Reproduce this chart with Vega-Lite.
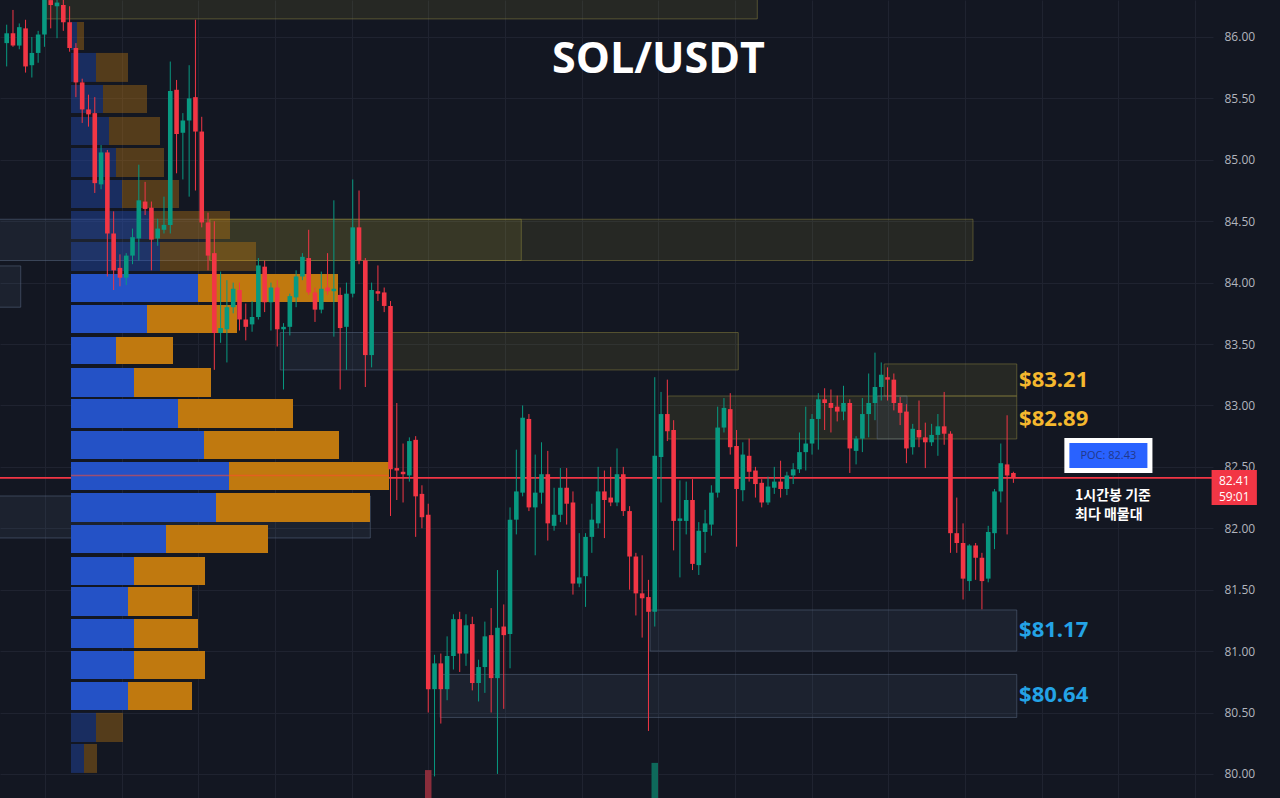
{
  "$schema": "https://vega.github.io/schema/vega-lite/v6.json",
  "width": 1213,
  "height": 798,
  "autosize": {"type": "none"},
  "padding": {"left": 0, "top": 0, "right": 67, "bottom": 0},
  "background": "#131722",
  "config": {"view": {"stroke": null}, "font": "Open Sans"},
  "datasets": {
    "candles": [
      {"k":0,"o":85.95,"h":86.10,"l":85.76,"c":86.03},
      {"k":1,"o":86.03,"h":86.22,"l":85.92,"c":85.93},
      {"k":2,"o":85.93,"h":86.11,"l":85.90,"c":86.08},
      {"k":3,"o":86.07,"h":86.14,"l":85.71,"c":85.76},
      {"k":4,"o":85.77,"h":86.00,"l":85.67,"c":85.87},
      {"k":5,"o":85.87,"h":86.05,"l":85.79,"c":86.02},
      {"k":6,"o":86.02,"h":86.45,"l":85.92,"c":86.35},
      {"k":7,"o":86.30,"h":86.40,"l":86.07,"c":86.26},
      {"k":8,"o":86.25,"h":86.32,"l":85.99,"c":86.28},
      {"k":9,"o":86.26,"h":86.32,"l":86.05,"c":86.12},
      {"k":10,"o":86.12,"h":86.25,"l":85.88,"c":85.91},
      {"k":11,"o":85.91,"h":85.95,"l":85.51,"c":85.63},
      {"k":12,"o":85.63,"h":85.66,"l":85.30,"c":85.41},
      {"k":13,"o":85.41,"h":85.53,"l":85.27,"c":85.37},
      {"k":14,"o":85.38,"h":85.51,"l":84.73,"c":84.81},
      {"k":15,"o":84.80,"h":85.12,"l":84.76,"c":85.06},
      {"k":16,"o":85.06,"h":85.08,"l":84.05,"c":84.40},
      {"k":17,"o":84.40,"h":84.58,"l":83.94,"c":84.10},
      {"k":18,"o":84.12,"h":84.23,"l":83.97,"c":84.04},
      {"k":19,"o":84.04,"h":84.24,"l":83.98,"c":84.22},
      {"k":20,"o":84.22,"h":84.44,"l":84.15,"c":84.37},
      {"k":21,"o":84.36,"h":84.96,"l":84.18,"c":84.67},
      {"k":22,"o":84.66,"h":84.82,"l":84.55,"c":84.60},
      {"k":23,"o":84.61,"h":84.66,"l":84.10,"c":84.35},
      {"k":24,"o":84.36,"h":84.52,"l":84.30,"c":84.44},
      {"k":25,"o":84.43,"h":84.70,"l":84.40,"c":84.47},
      {"k":26,"o":84.47,"h":85.80,"l":84.40,"c":85.56},
      {"k":27,"o":85.57,"h":85.65,"l":84.89,"c":85.21},
      {"k":28,"o":85.22,"h":85.38,"l":84.84,"c":85.32},
      {"k":29,"o":85.32,"h":85.77,"l":84.70,"c":85.50},
      {"k":30,"o":85.51,"h":86.14,"l":84.75,"c":85.23},
      {"k":31,"o":85.23,"h":85.35,"l":84.45,"c":84.49},
      {"k":32,"o":84.49,"h":84.57,"l":84.10,"c":84.22},
      {"k":33,"o":84.24,"h":84.50,"l":83.29,"c":83.59},
      {"k":34,"o":83.59,"h":84.09,"l":83.51,"c":83.63},
      {"k":35,"o":83.62,"h":84.02,"l":83.35,"c":83.80},
      {"k":36,"o":83.80,"h":84.00,"l":83.75,"c":83.95},
      {"k":37,"o":83.94,"h":84.00,"l":83.61,"c":83.70},
      {"k":38,"o":83.70,"h":83.83,"l":83.53,"c":83.64},
      {"k":39,"o":83.66,"h":83.85,"l":83.60,"c":83.72},
      {"k":40,"o":83.72,"h":84.20,"l":83.70,"c":84.14},
      {"k":41,"o":84.13,"h":84.18,"l":83.76,"c":83.84},
      {"k":42,"o":83.84,"h":84.00,"l":83.61,"c":83.96},
      {"k":43,"o":83.96,"h":84.02,"l":83.48,"c":83.62},
      {"k":44,"o":83.62,"h":83.67,"l":83.13,"c":83.64},
      {"k":45,"o":83.64,"h":83.91,"l":83.57,"c":83.89},
      {"k":46,"o":83.88,"h":84.10,"l":83.80,"c":84.05},
      {"k":47,"o":84.05,"h":84.24,"l":84.02,"c":84.21},
      {"k":48,"o":84.20,"h":84.43,"l":83.90,"c":83.92},
      {"k":49,"o":83.92,"h":83.96,"l":83.68,"c":83.78},
      {"k":50,"o":83.78,"h":84.09,"l":83.75,"c":83.95},
      {"k":51,"o":83.96,"h":84.24,"l":83.90,"c":83.93},
      {"k":52,"o":83.93,"h":84.67,"l":83.56,"c":83.95},
      {"k":53,"o":83.90,"h":83.96,"l":83.13,"c":83.63},
      {"k":54,"o":83.64,"h":84.00,"l":83.29,"c":83.91},
      {"k":55,"o":83.91,"h":84.84,"l":83.88,"c":84.45},
      {"k":56,"o":84.45,"h":84.75,"l":84.15,"c":84.18},
      {"k":57,"o":84.18,"h":84.20,"l":83.15,"c":83.41},
      {"k":58,"o":83.41,"h":84.00,"l":83.31,"c":83.94},
      {"k":59,"o":83.93,"h":84.14,"l":83.85,"c":83.91},
      {"k":60,"o":83.92,"h":83.96,"l":83.76,"c":83.81},
      {"k":61,"o":83.81,"h":83.85,"l":82.10,"c":82.48},
      {"k":62,"o":82.49,"h":83.02,"l":82.23,"c":82.47},
      {"k":63,"o":82.46,"h":82.69,"l":82.21,"c":82.44},
      {"k":64,"o":82.43,"h":82.74,"l":82.38,"c":82.71},
      {"k":65,"o":82.72,"h":82.75,"l":81.93,"c":82.26},
      {"k":66,"o":82.28,"h":82.35,"l":82.00,"c":82.09},
      {"k":67,"o":82.11,"h":82.20,"l":80.50,"c":80.69},
      {"k":68,"o":80.69,"h":80.97,"l":79.98,"c":80.90},
      {"k":69,"o":80.90,"h":80.98,"l":80.41,"c":80.69},
      {"k":70,"o":80.69,"h":81.12,"l":80.60,"c":80.96},
      {"k":71,"o":80.96,"h":81.30,"l":80.85,"c":81.26},
      {"k":72,"o":81.26,"h":81.32,"l":80.83,"c":80.98},
      {"k":73,"o":80.98,"h":81.30,"l":80.88,"c":81.21},
      {"k":74,"o":81.22,"h":81.28,"l":80.68,"c":80.74},
      {"k":75,"o":80.74,"h":80.93,"l":80.59,"c":80.87},
      {"k":76,"o":80.87,"h":81.24,"l":80.66,"c":81.12},
      {"k":77,"o":81.13,"h":81.35,"l":80.50,"c":80.78},
      {"k":78,"o":80.78,"h":81.66,"l":80.00,"c":81.19},
      {"k":79,"o":81.20,"h":81.38,"l":80.53,"c":81.13},
      {"k":80,"o":81.14,"h":82.17,"l":80.86,"c":82.07},
      {"k":81,"o":82.07,"h":82.64,"l":81.95,"c":82.30},
      {"k":82,"o":82.29,"h":83.00,"l":82.26,"c":82.90},
      {"k":83,"o":82.89,"h":82.93,"l":82.14,"c":82.17},
      {"k":84,"o":82.17,"h":82.60,"l":81.78,"c":82.29},
      {"k":85,"o":82.29,"h":82.70,"l":82.20,"c":82.44},
      {"k":86,"o":82.44,"h":82.63,"l":81.90,"c":82.04},
      {"k":87,"o":82.02,"h":82.33,"l":81.98,"c":82.11},
      {"k":88,"o":82.11,"h":82.49,"l":82.05,"c":82.33},
      {"k":89,"o":82.33,"h":82.49,"l":82.03,"c":82.20},
      {"k":90,"o":82.21,"h":82.30,"l":81.46,"c":81.55},
      {"k":91,"o":81.55,"h":81.96,"l":81.52,"c":81.60},
      {"k":92,"o":81.61,"h":81.96,"l":81.36,"c":81.93},
      {"k":93,"o":81.93,"h":82.20,"l":81.80,"c":82.07},
      {"k":94,"o":82.04,"h":82.50,"l":82.00,"c":82.30},
      {"k":95,"o":82.30,"h":82.47,"l":81.92,"c":82.23},
      {"k":96,"o":82.25,"h":82.50,"l":82.18,"c":82.21},
      {"k":97,"o":82.21,"h":82.65,"l":82.18,"c":82.44},
      {"k":98,"o":82.44,"h":82.50,"l":82.10,"c":82.14},
      {"k":99,"o":82.14,"h":82.18,"l":81.50,"c":81.77},
      {"k":100,"o":81.77,"h":81.80,"l":81.29,"c":81.47},
      {"k":101,"o":81.47,"h":81.78,"l":81.11,"c":81.43},
      {"k":102,"o":81.44,"h":81.58,"l":80.35,"c":81.32},
      {"k":103,"o":81.32,"h":83.23,"l":81.20,"c":82.59},
      {"k":104,"o":82.58,"h":83.11,"l":82.21,"c":82.93},
      {"k":105,"o":82.93,"h":83.21,"l":82.71,"c":82.79},
      {"k":106,"o":82.80,"h":82.88,"l":81.82,"c":82.06},
      {"k":107,"o":82.06,"h":82.39,"l":81.60,"c":82.08},
      {"k":108,"o":82.06,"h":82.38,"l":81.95,"c":82.23},
      {"k":109,"o":82.23,"h":82.40,"l":81.66,"c":81.71},
      {"k":110,"o":81.70,"h":82.05,"l":81.62,"c":81.98},
      {"k":111,"o":81.97,"h":82.15,"l":81.80,"c":82.04},
      {"k":112,"o":82.03,"h":82.35,"l":81.94,"c":82.29},
      {"k":113,"o":82.29,"h":82.99,"l":82.25,"c":82.82},
      {"k":114,"o":82.82,"h":83.06,"l":82.78,"c":82.98},
      {"k":115,"o":82.97,"h":83.10,"l":82.60,"c":82.66},
      {"k":116,"o":82.67,"h":82.80,"l":81.85,"c":82.32},
      {"k":117,"o":82.31,"h":82.70,"l":82.22,"c":82.60},
      {"k":118,"o":82.59,"h":82.73,"l":82.38,"c":82.46},
      {"k":119,"o":82.47,"h":82.50,"l":82.25,"c":82.36},
      {"k":120,"o":82.37,"h":82.40,"l":82.17,"c":82.21},
      {"k":121,"o":82.21,"h":82.42,"l":82.19,"c":82.34},
      {"k":122,"o":82.33,"h":82.50,"l":82.28,"c":82.38},
      {"k":123,"o":82.38,"h":82.55,"l":82.25,"c":82.32},
      {"k":124,"o":82.32,"h":82.46,"l":82.27,"c":82.43},
      {"k":125,"o":82.43,"h":82.53,"l":82.36,"c":82.48},
      {"k":126,"o":82.48,"h":82.78,"l":82.45,"c":82.62},
      {"k":127,"o":82.62,"h":82.99,"l":82.47,"c":82.69},
      {"k":128,"o":82.69,"h":82.93,"l":82.60,"c":82.89},
      {"k":129,"o":82.89,"h":83.10,"l":82.64,"c":83.05},
      {"k":130,"o":83.05,"h":83.14,"l":82.80,"c":83.02},
      {"k":131,"o":83.02,"h":83.13,"l":82.78,"c":82.98},
      {"k":132,"o":82.99,"h":83.08,"l":82.87,"c":82.95},
      {"k":133,"o":82.95,"h":83.16,"l":82.88,"c":83.02},
      {"k":134,"o":83.02,"h":83.05,"l":82.45,"c":82.65},
      {"k":135,"o":82.63,"h":82.75,"l":82.52,"c":82.73},
      {"k":136,"o":82.73,"h":83.06,"l":82.62,"c":82.93},
      {"k":137,"o":82.93,"h":83.26,"l":82.74,"c":83.02},
      {"k":138,"o":83.02,"h":83.43,"l":82.88,"c":83.15},
      {"k":139,"o":83.15,"h":83.35,"l":83.04,"c":83.25},
      {"k":140,"o":83.23,"h":83.31,"l":83.04,"c":83.21},
      {"k":141,"o":83.21,"h":83.26,"l":82.96,"c":83.02},
      {"k":142,"o":83.02,"h":83.07,"l":82.84,"c":82.94},
      {"k":143,"o":82.95,"h":83.01,"l":82.53,"c":82.65},
      {"k":144,"o":82.66,"h":82.85,"l":82.60,"c":82.81},
      {"k":145,"o":82.80,"h":83.04,"l":82.66,"c":82.74},
      {"k":146,"o":82.74,"h":82.86,"l":82.49,"c":82.70},
      {"k":147,"o":82.70,"h":82.85,"l":82.67,"c":82.76},
      {"k":148,"o":82.76,"h":82.93,"l":82.59,"c":82.83},
      {"k":149,"o":82.83,"h":83.11,"l":82.68,"c":82.77},
      {"k":150,"o":82.77,"h":82.79,"l":81.80,"c":81.96},
      {"k":151,"o":81.96,"h":82.25,"l":81.80,"c":81.88},
      {"k":152,"o":81.88,"h":82.04,"l":81.42,"c":81.59},
      {"k":153,"o":81.57,"h":81.87,"l":81.49,"c":81.86},
      {"k":154,"o":81.86,"h":81.88,"l":81.58,"c":81.76},
      {"k":155,"o":81.76,"h":81.80,"l":81.34,"c":81.57},
      {"k":156,"o":81.59,"h":82.02,"l":81.56,"c":81.97},
      {"k":157,"o":81.96,"h":82.32,"l":81.83,"c":82.30},
      {"k":158,"o":82.30,"h":82.69,"l":82.21,"c":82.53},
      {"k":159,"o":82.52,"h":82.92,"l":81.95,"c":82.43},
      {"k":160,"o":82.45,"h":82.46,"l":82.37,"c":82.41}
    ],
    "zones": [
      {"k0":7,"k1":119.1,"lo":86.147,"hi":86.6,"kind":"supply"},
      {"k0":-1,"k1":32.8,"lo":84.18,"hi":84.516,"kind":"demand"},
      {"k0":32.8,"k1":81.9,"lo":84.18,"hi":84.516,"kind":"supply"},
      {"k0":32.8,"k1":153.1,"lo":84.18,"hi":84.516,"kind":"supply"},
      {"k0":-1,"k1":3.0,"lo":83.80,"hi":84.136,"kind":"demand"},
      {"k0":43.9,"k1":61.2,"lo":83.289,"hi":83.594,"kind":"demand"},
      {"k0":61.2,"k1":116.1,"lo":83.289,"hi":83.594,"kind":"supply"},
      {"k0":139.1,"k1":160.0,"lo":83.077,"hi":83.338,"kind":"supply"},
      {"k0":105.0,"k1":160.0,"lo":82.727,"hi":83.077,"kind":"supply"},
      {"k0":138.0,"k1":142.7,"lo":82.727,"hi":83.077,"kind":"demand"},
      {"k0":-1,"k1":58.1,"lo":81.921,"hi":82.263,"kind":"demand"},
      {"k0":102.2,"k1":160.0,"lo":81.0,"hi":81.335,"kind":"demand"},
      {"k0":69.1,"k1":160.0,"lo":80.46,"hi":80.81,"kind":"demand"}
    ],
    "profile": [
      {"lo":85.894,"hi":86.122,"buy":6,"total":13,"va":false,"poc":false},
      {"lo":85.634,"hi":85.870,"buy":25,"total":57,"va":false,"poc":false},
      {"lo":85.381,"hi":85.609,"buy":32,"total":76,"va":false,"poc":false},
      {"lo":85.121,"hi":85.349,"buy":38,"total":89,"va":false,"poc":false},
      {"lo":84.860,"hi":85.096,"buy":45,"total":93,"va":false,"poc":false},
      {"lo":84.608,"hi":84.836,"buy":51,"total":108,"va":false,"poc":false},
      {"lo":84.355,"hi":84.583,"buy":79,"total":159,"va":false,"poc":false},
      {"lo":84.095,"hi":84.331,"buy":89,"total":185,"va":false,"poc":false},
      {"lo":83.843,"hi":84.070,"buy":127,"total":267,"va":true,"poc":false},
      {"lo":83.590,"hi":83.818,"buy":76,"total":166,"va":true,"poc":false},
      {"lo":83.338,"hi":83.558,"buy":45,"total":102,"va":true,"poc":false},
      {"lo":83.069,"hi":83.305,"buy":63,"total":140,"va":true,"poc":false},
      {"lo":82.817,"hi":83.053,"buy":107,"total":222,"va":true,"poc":false},
      {"lo":82.564,"hi":82.792,"buy":133,"total":268,"va":true,"poc":false},
      {"lo":82.312,"hi":82.540,"buy":158,"total":318,"va":true,"poc":true},
      {"lo":82.051,"hi":82.288,"buy":145,"total":299,"va":true,"poc":false},
      {"lo":81.799,"hi":82.027,"buy":95,"total":197,"va":true,"poc":false},
      {"lo":81.539,"hi":81.767,"buy":63,"total":134,"va":true,"poc":false},
      {"lo":81.286,"hi":81.522,"buy":57,"total":121,"va":true,"poc":false},
      {"lo":81.026,"hi":81.262,"buy":63,"total":127,"va":true,"poc":false},
      {"lo":80.773,"hi":81.001,"buy":63,"total":134,"va":true,"poc":false},
      {"lo":80.521,"hi":80.749,"buy":57,"total":121,"va":true,"poc":false},
      {"lo":80.260,"hi":80.497,"buy":25,"total":52,"va":false,"poc":false},
      {"lo":80.008,"hi":80.244,"buy":13,"total":26,"va":false,"poc":false}
    ],
    "volume": [
      {"k":67,"vol":3.5,"up":false},
      {"k":103,"vol":4.4,"up":true}
    ],
    "levels": [
      {"price":83.21,"label":"$83.21","kind":"supply"},
      {"price":82.89,"label":"$82.89","kind":"supply"},
      {"price":81.17,"label":"$81.17","kind":"demand"},
      {"price":80.64,"label":"$80.64","kind":"demand"}
    ]
  },
  "layer": [
    {
      "data": {"name": "zones"},
      "mark": {"type": "rect", "strokeWidth": 1, "fillOpacity": 0.1, "strokeOpacity": 0.5},
      "encoding": {
        "x": {"field": "k0", "type": "quantitative",
              "scale": {"domain": [-0.268, 190.93], "nice": false, "zero": false},
              "axis": {"orient": "bottom", "values": [6.83, 18.91, 31.0, 43.08, 55.17, 67.25, 79.34, 91.42, 103.51, 115.59, 127.68, 139.76, 151.85, 163.93, 176.02, 188.1],
                       "grid": true, "gridColor": "#1f2330", "labels": false, "ticks": false, "domain": false, "title": null}},
        "x2": {"field": "k1"},
        "y": {"field": "lo", "type": "quantitative",
              "scale": {"domain": [79.804, 86.301], "nice": false, "zero": false},
              "axis": {"orient": "right", "values": [80, 80.5, 81, 81.5, 82, 82.5, 83, 83.5, 84, 84.5, 85, 85.5, 86],
                       "format": ".2f", "grid": true, "gridColor": "#1f2330", "ticks": false, "domain": false,
                       "labelColor": "#b2b5be", "labelFontSize": 12, "labelFont": "Open Sans", "labelPadding": 11,
                       "labelBaseline": "middle", "title": null}},
        "y2": {"field": "hi"},
        "fill": {"condition": {"test": "datum.kind === 'supply'", "value": "#d2c03c"}, "value": "#6f86a8"},
        "stroke": {"condition": {"test": "datum.kind === 'supply'", "value": "#8d8540"}, "value": "#5d6d88"}
      }
    },
    {
      "data": {"name": "volume"},
      "mark": {"type": "bar", "width": 6.5, "orient": "vertical"},
      "encoding": {
        "x": {"field": "k", "type": "quantitative", "scale": {"domain": [-0.268, 190.93], "nice": false, "zero": false}, "axis": null},
        "y": {"field": "vol", "type": "quantitative", "scale": {"domain": [0, 100], "nice": false}, "axis": null},
        "color": {"condition": {"test": "datum.up", "value": "#0e6a5b"}, "value": "#8a2d3b"}
      }
    },
    {
      "data": {"values": [{"last": 82.41}]},
      "mark": {"type": "rule", "color": "#f23645", "strokeWidth": 1.6},
      "encoding": {
        "y": {"field": "last", "type": "quantitative", "scale": {"domain": [79.804, 86.301], "nice": false, "zero": false}, "axis": null}
      }
    },
    {
      "data": {"name": "profile"},
      "layer": [
        {
          "mark": {"type": "rect"},
          "encoding": {
            "x": {"field": "buy", "type": "quantitative", "scale": {"domain": [-71, 1142], "nice": false, "zero": false}, "axis": null},
            "x2": {"datum": 0},
            "y": {"field": "lo", "type": "quantitative", "scale": {"domain": [79.804, 86.301], "nice": false, "zero": false}, "axis": null},
            "y2": {"field": "hi"},
            "color": {"value": "#2452c6"},
            "opacity": {"condition": {"test": "datum.va", "value": 1}, "value": 0.38}
          }
        },
        {
          "mark": {"type": "rect"},
          "encoding": {
            "x": {"field": "buy", "type": "quantitative"},
            "x2": {"field": "total"},
            "y": {"field": "lo", "type": "quantitative"},
            "y2": {"field": "hi"},
            "color": {"value": "#c0790f"},
            "opacity": {"condition": {"test": "datum.va", "value": 1}, "value": 0.38}
          }
        },
        {
          "transform": [{"filter": "datum.poc"}],
          "mark": {"type": "rule", "color": "#ff4d2e", "strokeWidth": 1.5, "opacity": 0.55},
          "encoding": {
            "x": {"field": "total", "type": "quantitative"},
            "x2": {"datum": 0},
            "y": {"datum": 82.43, "type": "quantitative"}
          }
        }
      ]
    },
    {
      "data": {"name": "candles"},
      "layer": [
        {
          "mark": {"type": "rule", "strokeWidth": 1},
          "encoding": {
            "x": {"field": "k", "type": "quantitative", "scale": {"domain": [-0.268, 190.93], "nice": false, "zero": false}, "axis": null},
            "y": {"field": "l", "type": "quantitative", "scale": {"domain": [79.804, 86.301], "nice": false, "zero": false}, "axis": null},
            "y2": {"field": "h"},
            "color": {"condition": {"test": "datum.c >= datum.o", "value": "#089981"}, "value": "#f23645"}
          }
        },
        {
          "mark": {"type": "bar", "width": 4.6, "orient": "vertical"},
          "encoding": {
            "x": {"field": "k", "type": "quantitative"},
            "y": {"field": "o", "type": "quantitative"},
            "y2": {"field": "c"},
            "color": {"condition": {"test": "datum.c >= datum.o", "value": "#089981"}, "value": "#f23645"}
          }
        },
        {
          "data": {"name": "levels"},
          "mark": {"type": "text", "align": "left", "baseline": "middle", "fontSize": 22, "fontWeight": "bold", "font": "Open Sans"},
          "encoding": {
            "x": {"datum": 160.9, "type": "quantitative"},
            "y": {"field": "price", "type": "quantitative"},
            "text": {"field": "label"},
            "color": {"condition": {"test": "datum.kind === 'supply'", "value": "#f5b82e"}, "value": "#24a3e6"}
          }
        },
        {
          "data": {"values": [{"title": "SOL/USDT"}]},
          "mark": {"type": "text", "align": "center", "baseline": "middle", "fontSize": 43, "fontWeight": "bold", "font": "Open Sans", "color": "#ffffff"},
          "encoding": {
            "x": {"datum": 103.6, "type": "quantitative"},
            "y": {"datum": 85.81, "type": "quantitative"},
            "text": {"field": "title"}
          }
        },
        {
          "data": {"values": [{"t": "POC"}]},
          "mark": {"type": "rect", "color": "#ffffff"},
          "encoding": {
            "x": {"datum": 168.1, "type": "quantitative"},
            "x2": {"datum": 182.1},
            "y": {"datum": 82.45, "type": "quantitative"},
            "y2": {"datum": 82.735}
          }
        },
        {
          "data": {"values": [{"t": "POC"}]},
          "mark": {"type": "rect", "color": "#2962ff"},
          "encoding": {
            "x": {"datum": 168.9, "type": "quantitative"},
            "x2": {"datum": 181.3},
            "y": {"datum": 82.49, "type": "quantitative"},
            "y2": {"datum": 82.695}
          }
        },
        {
          "data": {"values": [{"t": "POC: 82.43"}]},
          "mark": {"type": "text", "align": "center", "baseline": "middle", "fontSize": 11, "font": "Open Sans", "color": "#22388a"},
          "encoding": {
            "x": {"datum": 175.1, "type": "quantitative"},
            "y": {"datum": 82.59, "type": "quantitative"},
            "text": {"field": "t"}
          }
        },
        {
          "data": {"values": [{"t": ["1시간봉 기준", "최다 매물대"]}]},
          "mark": {"type": "text", "align": "left", "baseline": "top", "fontSize": 14, "fontWeight": "bold", "font": "Noto Sans CJK KR", "color": "#ffffff", "lineHeight": 19},
          "encoding": {
            "x": {"datum": 169.8, "type": "quantitative"},
            "y": {"datum": 82.32, "type": "quantitative"},
            "text": {"field": "t"}
          }
        },
        {
          "data": {"values": [{"t": "tag"}]},
          "mark": {"type": "rect", "color": "#f23645"},
          "encoding": {
            "x": {"datum": 191.5, "type": "quantitative"},
            "x2": {"datum": 198.7},
            "y": {"datum": 82.19, "type": "quantitative"},
            "y2": {"datum": 82.475}
          }
        },
        {
          "data": {"values": [{"price": "82.41", "countdown": "59:01"}]},
          "mark": {"type": "text", "align": "center", "baseline": "middle", "fontSize": 12, "font": "Open Sans", "color": "#ffffff", "dy": 3},
          "encoding": {
            "x": {"datum": 195.1, "type": "quantitative"},
            "y": {"datum": 82.41, "type": "quantitative"},
            "text": {"field": "price"}
          }
        },
        {
          "data": {"values": [{"price": "82.41", "countdown": "59:01"}]},
          "mark": {"type": "text", "align": "center", "baseline": "middle", "fontSize": 12, "font": "Open Sans", "color": "#ffffff", "dy": 19},
          "encoding": {
            "x": {"datum": 195.1, "type": "quantitative"},
            "y": {"datum": 82.41, "type": "quantitative"},
            "text": {"field": "countdown"}
          }
        }
      ]
    }
  ],
  "resolve": {"scale": {"x": "independent", "y": "independent"}}
}
